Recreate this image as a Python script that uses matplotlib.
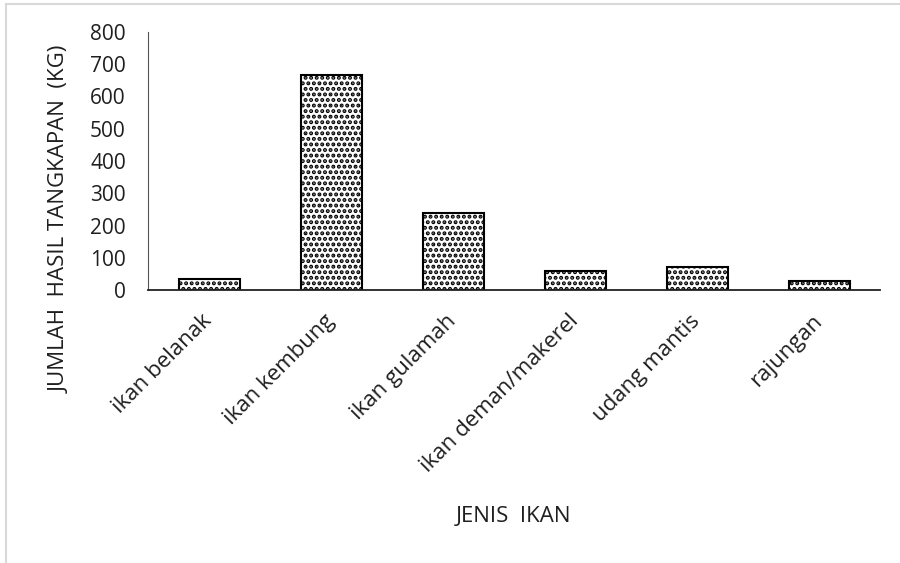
import matplotlib
matplotlib.use("Agg")
from matplotlib import pyplot as plt
from matplotlib.lines import Line2D

categories = ['ikan belanak', 'ikan kembung', 'ikan gulamah', 'ikan deman/makerel',
              'udang mantis', 'rajungan']
catch_kg = [34, 667, 239, 58, 71, 27]
y_ticks = [0, 100, 200, 300, 400, 500, 600, 700, 800]

plt.rcParams['font.family'] = ['Open Sans', 'DejaVu Sans']
plt.rcParams['hatch.linewidth'] = 2.0
TEXT = '#1f1f1f'


def chart():
    fig = plt.figure(figsize=(9, 5.63), dpi=100)
    ax = fig.add_axes([148 / 900, 1 - 290 / 563, (880 - 148) / 900, (290 - 32) / 563])
    x = range(len(categories))
    ax.bar(x, catch_kg, width=0.5, color='white', edgecolor='black', linewidth=1.5, hatch='...')
    ax.set_xlim(-0.5, 5.5)
    ax.set_ylim(0, 800)
    ax.set_yticks(y_ticks)
    ax.set_yticklabels([str(v) for v in y_ticks], fontsize=15, color=TEXT)
    ax.set_xticks(list(x))
    ax.set_xticklabels(categories, rotation=45, ha='right', va='center',
                       rotation_mode='anchor', fontsize=16, color=TEXT)
    ax.tick_params(axis='both', length=0)
    ax.tick_params(axis='x', pad=20)
    ax.tick_params(axis='y', pad=16)
    for side in ['top', 'right']:
        ax.spines[side].set_visible(False)
    ax.spines['left'].set_color('#555555')
    ax.spines['bottom'].set_color('#222222')
    ax.spines['bottom'].set_linewidth(1.3)
    fig.text(60 / 900, 1 - 219 / 563, 'JUMLAH  HASIL TANGKAPAN  (KG)', rotation=90,
             ha='center', va='center', fontsize=16, color=TEXT)
    fig.text(514 / 900, 1 - 517 / 563, 'JENIS  IKAN', ha='center', va='center',
             fontsize=16, color=TEXT)
    # faint frame on the left and top edges
    fig.add_artist(Line2D([6 / 900, 6 / 900], [0, 1 - 4 / 563], color='#d8d8d8', lw=1.5,
                          transform=fig.transFigure))
    fig.add_artist(Line2D([6 / 900, 1], [1 - 4 / 563, 1 - 4 / 563], color='#d8d8d8', lw=1.5,
                          transform=fig.transFigure))
    fig.savefig('out.png', dpi=100)


if __name__ == '__main__':
    chart()
